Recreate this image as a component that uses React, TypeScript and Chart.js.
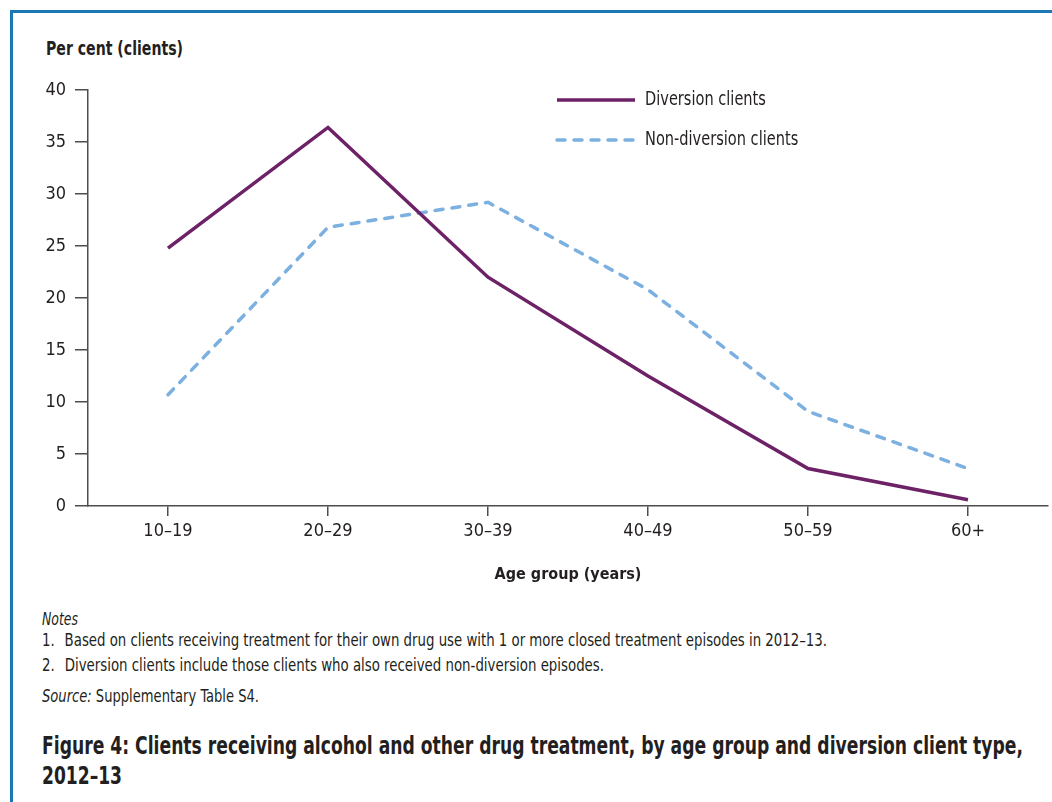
import React, { useEffect, useLayoutEffect, useRef } from "react";
import { Chart, registerables } from "chart.js";

Chart.register(...registerables);

const categories = ["10–19", "20–29", "30–39", "40–49", "50–59", "60+"];
const diversionValues = [24.8, 36.4, 22.0, 12.5, 3.6, 0.6];
const nonDiversionValues = [10.7, 26.8, 29.2, 20.8, 9.1, 3.6];
const seriesNames = ["Diversion clients", "Non-diversion clients"];
const yTicks = [0, 5, 10, 15, 20, 25, 30, 35, 40];

const FONT = "'Liberation Sans Narrow', 'DejaVu Sans Condensed', 'Roboto Condensed', 'Open Sans', sans-serif";
const TEXT = "#231f20";
const AXIS = "#4d4d4d";
const PURPLE = "#6d2166";
const LIGHTBLUE = "#7bb0e1";

const legendPlugin = {
  id: "customLegend",
  afterDraw(chart: any) {
    const ctx = chart.ctx;
    const area = chart.chartArea;
    const x0 = area.left + 469;
    const x1 = x0 + 78;
    const ys = [area.top + 10, area.top + 50];
    chart.data.datasets.forEach((ds: any, i: number) => {
      ctx.save();
      ctx.strokeStyle = ds.borderColor;
      ctx.lineWidth = ds.borderWidth;
      ctx.lineCap = ds.borderCapStyle || "butt";
      ctx.setLineDash(ds.borderDash || []);
      ctx.beginPath();
      ctx.moveTo(x0, ys[i]);
      ctx.lineTo(x1, ys[i]);
      ctx.stroke();
      ctx.setLineDash([]);
      ctx.fillStyle = TEXT;
      ctx.font = `20px ${FONT}`;
      ctx.textBaseline = "middle";
      ctx.textAlign = "left";
      ctx.translate(x1 + 10, ys[i]);
      ctx.scale(0.81, 1);
      ctx.fillText(ds.label, 0, 0);
      ctx.restore();
    });
  },
};

function FitText(props: {
  left: number;
  top: number;
  width: number;
  size: number;
  bold?: boolean;
  children: React.ReactNode;
}) {
  const ref = useRef<HTMLDivElement | null>(null);
  useLayoutEffect(() => {
    const el = ref.current;
    if (!el) return;
    el.style.transform = "none";
    const w = el.getBoundingClientRect().width;
    if (w > 0) el.style.transform = `scaleX(${props.width / w})`;
  });
  return (
    <div
      ref={ref}
      style={{
        position: "absolute",
        left: props.left,
        top: props.top,
        fontFamily: FONT,
        fontSize: props.size,
        fontWeight: props.bold ? "bold" : "normal",
        color: TEXT,
        whiteSpace: "nowrap",
        lineHeight: `${Math.round(props.size * 1.2)}px`,
        transformOrigin: "0 0",
        display: "inline-block",
      }}
    >
      {props.children}
    </div>
  );
}

export default function App() {
  const ref = useRef<HTMLCanvasElement | null>(null);

  useEffect(() => {
    document.body.style.margin = "0";
    document.body.style.overflow = "hidden";
    if (!ref.current) return;
    const chart = new Chart(ref.current, {
      type: "line",
      data: {
        labels: categories,
        datasets: [
          {
            label: seriesNames[0],
            data: diversionValues,
            borderColor: PURPLE,
            borderWidth: 3.5,
            pointRadius: 0,
            tension: 0,
            fill: false,
          },
          {
            label: seriesNames[1],
            data: nonDiversionValues,
            borderColor: LIGHTBLUE,
            borderWidth: 3.5,
            borderDash: [8, 9],
            borderCapStyle: "round",
            pointRadius: 0,
            tension: 0,
            fill: false,
          },
        ],
      },
      options: {
        animation: false,
        responsive: false,
        maintainAspectRatio: false,
        layout: { padding: { top: 90, right: 4, left: 0, bottom: 0 } },
        plugins: {
          legend: { display: false },
          tooltip: { enabled: false },
          title: { display: false },
        },
        scales: {
          x: {
            type: "category",
            offset: true,
            grid: {
              display: true,
              drawOnChartArea: false,
              drawTicks: true,
              tickLength: 10,
              offset: false,
              color: AXIS,
              lineWidth: 1.5,
            },
            border: { display: true, color: AXIS, width: 1.5 },
            ticks: { color: TEXT, font: { family: FONT, size: 18 }, padding: 5 },
            title: {
              display: true,
              text: "Age group (years)",
              color: TEXT,
              font: { family: FONT, size: 16, weight: "bold" },
              padding: { top: 0, bottom: 6 },
            },
            afterFit(scale: any) {
              scale.height = 84;
            },
          },
          y: {
            min: 0,
            max: 40,
            afterBuildTicks(scale: any) {
              scale.ticks = yTicks.map((v) => ({ value: v }));
            },
            grid: {
              display: true,
              drawOnChartArea: false,
              drawTicks: true,
              tickLength: 13,
              color: AXIS,
              lineWidth: 1.5,
            },
            border: { display: true, color: AXIS, width: 1.5 },
            ticks: { color: TEXT, font: { family: FONT, size: 18 }, padding: 9 },
            afterFit(scale: any) {
              scale.width = 88;
            },
          },
        },
      },
      plugins: [legendPlugin],
    } as any);
    return () => chart.destroy();
  }, []);

  return (
    <div style={{ position: "relative", width: 1052, height: 802, overflow: "hidden", background: "#fff" }}>
      <div
        style={{
          position: "absolute",
          left: 10,
          top: 10,
          width: 1200,
          height: 1000,
          borderTop: "3px solid #1b78b5",
          borderLeft: "3px solid #1b78b5",
          boxSizing: "border-box",
        }}
      />
      <FitText left={46} top={37} width={137} size={19} bold>
        Per cent (clients)
      </FitText>
      <canvas
        ref={ref}
        width={1052}
        height={590}
        style={{ position: "absolute", left: 0, top: 0, width: 1052, height: 590 }}
      />
      <FitText left={42} top={609} width={36} size={17}>
        <i>Notes</i>
      </FitText>
      <FitText left={42} top={630} width={785} size={17}>
        <span style={{ display: "inline-block", width: 26 }}>1.</span>
        Based on clients receiving treatment for their own drug use with 1 or more closed treatment episodes in 2012–13.
      </FitText>
      <FitText left={42} top={655} width={562} size={17}>
        <span style={{ display: "inline-block", width: 26 }}>2.</span>
        Diversion clients include those clients who also received non-diversion episodes.
      </FitText>
      <FitText left={42} top={686} width={217} size={17}>
        <i>Source:</i> Supplementary Table S4.
      </FitText>
      <FitText left={42} top={731} width={981} size={25} bold>
        Figure 4: Clients receiving alcohol and other drug treatment, by age group and diversion client type,
      </FitText>
      <FitText left={42} top={761} width={80} size={25} bold>
        2012–13
      </FitText>
    </div>
  );
}
